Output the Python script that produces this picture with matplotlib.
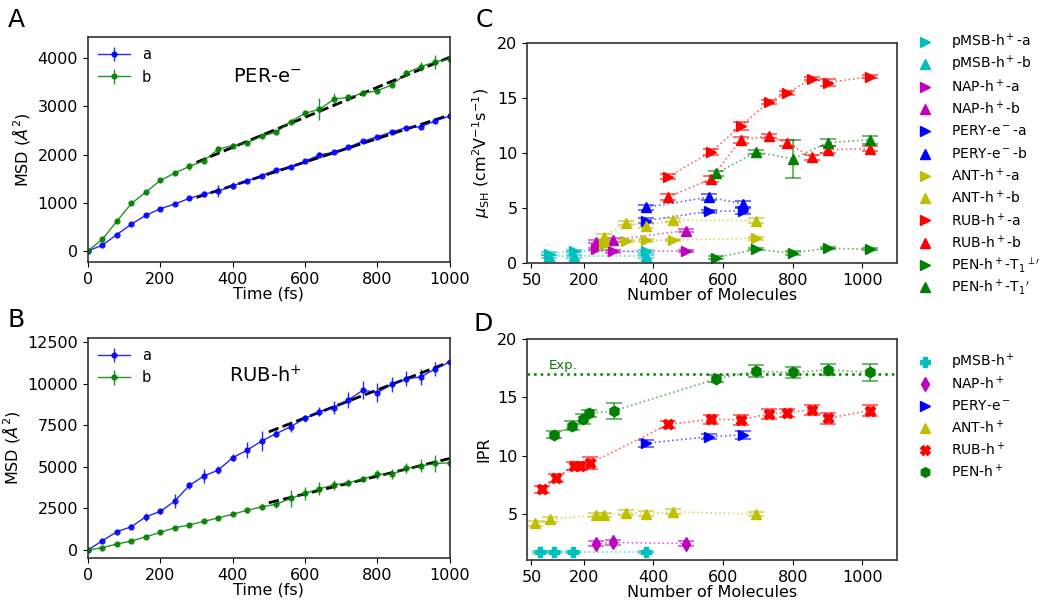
import numpy as np
import matplotlib
matplotlib.use("Agg")
import matplotlib.pyplot as plt
from matplotlib.lines import Line2D
from matplotlib.colors import to_rgba

# ---------------- Data ----------------
time_fs = [0, 40, 80, 120, 160, 200, 240, 280, 320, 360, 400, 440, 480, 520, 560,
           600, 640, 680, 720, 760, 800, 840, 880, 920, 960, 1000]

per_a = [0, 120, 340, 555, 740, 875, 975, 1090, 1180, 1240, 1355, 1450, 1565, 1680,
         1735, 1860, 1995, 2045, 2155, 2275, 2370, 2470, 2560, 2575, 2700, 2800]
per_a_err = [0, 20, 20, 25, 25, 25, 25, 30, 60, 120, 70, 50, 40, 40, 30, 30, 50, 30,
             30, 30, 30, 30, 30, 30, 40, 30]
per_b = [0, 243, 617, 985, 1220, 1463, 1615, 1754, 1871, 2110, 2187, 2245, 2384, 2461,
         2686, 2856, 2942, 3147, 3189, 3272, 3326, 3445, 3688, 3826, 3923, 3986]
per_b_err = [0, 30, 30, 30, 30, 30, 30, 80, 50, 60, 50, 40, 40, 40, 40, 60, 230, 130,
             70, 60, 50, 50, 60, 100, 140, 60]
per_fit_x = [300, 1000]
per_fit_a = [1110, 2821]
per_fit_b = [1838, 4020]

rub_a = [0, 560, 1100, 1400, 2000, 2320, 2940, 3880, 4440, 4800, 5550, 6000, 6550,
         6990, 7410, 7910, 8320, 8560, 9020, 9600, 9460, 9960, 10280, 10400, 10880, 11300]
rub_a_err = [0, 100, 100, 150, 250, 150, 400, 200, 400, 250, 200, 500, 600, 200, 300,
             200, 250, 400, 500, 550, 550, 450, 450, 500, 400, 200]
rub_b = [0, 140, 360, 540, 800, 1060, 1340, 1500, 1720, 1930, 2150, 2390, 2590, 2750,
         3100, 3400, 3680, 3910, 4040, 4260, 4540, 4560, 4900, 5060, 5200, 5240]
rub_b_err = [0, 60, 60, 80, 80, 80, 100, 100, 100, 100, 120, 150, 150, 200, 500, 400,
             400, 300, 200, 200, 250, 300, 300, 400, 500, 400]
rub_fit_x = [500, 1000]
rub_fit_a = [7100, 11300]
rub_fit_b = [2840, 5500]

# Panel C: mobility
c_pmsb_x = [100, 172, 380]
c_pmsb_a = [0.85, 1.1, 1.05]
c_pmsb_a_err = [0.15, 0.1, 0.1]
c_pmsb_b = [0.6, 0.6, 0.6]
c_pmsb_b_err = [0.1, 0.1, 0.1]

c_nap_x = [236, 283, 493]
c_nap_a = [1.25, 1.05, 1.1]
c_nap_a_err = [0.1, 0.1, 0.1]
c_nap_b = [1.95, 2.1, 2.95]
c_nap_b_err = [0.15, 0.15, 0.15]

c_pery_x = [378, 560, 657]
c_pery_a = [3.85, 4.7, 4.75]
c_pery_a_err = [0.2, 0.15, 0.25]
c_pery_b = [5.05, 6.0, 5.35]
c_pery_b_err = [0.2, 0.25, 0.3]

c_ant_x = [257, 322, 378, 455, 695]
c_ant_a = [1.6, 2.0, 2.05, 2.1, 2.25]
c_ant_a_err = [0.1, 0.1, 0.1, 0.1, 0.15]
c_ant_b = [2.4, 3.65, 3.4, 3.9, 3.85]
c_ant_b_err = [0.2, 0.2, 0.2, 0.2, 0.2]

c_rub_x = [443, 565, 651, 731, 784, 855, 900, 1022]
c_rub_a = [7.85, 10.1, 12.45, 14.65, 15.45, 16.75, 16.4, 16.95]
c_rub_a_err = [0.2, 0.25, 0.4, 0.2, 0.2, 0.15, 0.35, 0.15]
c_rub_b = [6.0, 7.65, 11.2, 11.55, 10.9, 9.6, 10.3, 10.4]
c_rub_b_err = [0.3, 0.25, 0.3, 0.2, 0.3, 0.25, 0.3, 0.2]

c_pen_x = [581, 695, 800, 900, 1022]
c_pen_a = [0.5, 1.25, 0.9, 1.35, 1.25]
c_pen_a_err = [0.1, 0.1, 0.2, 0.1, 0.1]
c_pen_b = [8.15, 10.1, 9.45, 10.95, 11.2]
c_pen_b_err = [0.25, 0.2, 1.7, 0.3, 0.35]

c_labels = ['pMSB-h$^+$-a', 'pMSB-h$^+$-b', 'NAP-h$^+$-a', 'NAP-h$^+$-b',
            'PERY-e$^-$-a', 'PERY-e$^-$-b', 'ANT-h$^+$-a', 'ANT-h$^+$-b',
            'RUB-h$^+$-a', 'RUB-h$^+$-b', 'PEN-h$^+$-T$_1{}^{\\perp\\prime}$',
            'PEN-h$^+$-T$_1{}^{\\prime}$']

# Panel D: IPR
d_pmsb_x = [74, 114, 169, 378]
d_pmsb = [1.8, 1.8, 1.8, 1.8]
d_pmsb_err = [0.1, 0.1, 0.1, 0.1]
d_nap_x = [236, 283, 493]
d_nap = [2.51, 2.6, 2.51]
d_nap_err = [0.2, 0.2, 0.2]
d_pery_x = [378, 560, 657]
d_pery = [11.08, 11.65, 11.8]
d_pery_err = [0.3, 0.2, 0.35]
d_ant_x = [59, 102, 236, 257, 322, 378, 455, 695]
d_ant = [4.23, 4.57, 4.94, 4.94, 5.14, 5.05, 5.22, 5.03]
d_ant_err = [0.2, 0.2, 0.2, 0.2, 0.2, 0.2, 0.2, 0.2]
d_rub_x = [81, 121, 172, 190, 218, 443, 565, 651, 731, 784, 855, 900, 1022]
d_rub = [7.14, 8.08, 9.14, 9.14, 9.37, 12.7, 13.14, 13.08, 13.6, 13.7, 13.94, 13.22, 13.88]
d_rub_err = [0.3, 0.35, 0.3, 0.3, 0.5, 0.3, 0.4, 0.45, 0.4, 0.35, 0.45, 0.45, 0.5]
d_pen_x = [116, 167, 198, 215, 286, 581, 695, 800, 900, 1022]
d_pen = [11.8, 12.6, 13.14, 13.65, 13.85, 16.6, 17.25, 17.14, 17.37, 17.14]
d_pen_err = [0.3, 0.35, 0.45, 0.3, 0.7, 0.3, 0.5, 0.45, 0.45, 0.7]
d_exp = 17.0
d_labels = ['pMSB-h$^+$', 'NAP-h$^+$', 'PERY-e$^-$', 'ANT-h$^+$', 'RUB-h$^+$', 'PEN-h$^+$']

# ---------------- Figure ----------------
plt.rcParams['font.family'] = ['DejaVu Sans']
plt.rcParams['axes.linewidth'] = 1.2
plt.rcParams['axes.edgecolor'] = '#333333'
TICK = 11.5
W, H = 1041, 603

fig = plt.figure(figsize=(10.41, 6.03), dpi=100)
axA = fig.add_axes([0.0845, 0.5655, 0.3475, 0.3731])
axB = fig.add_axes([0.0845, 0.0746, 0.3475, 0.3649])
axC = fig.add_axes([0.5065, 0.5638, 0.3555, 0.3649])
axD = fig.add_axes([0.5065, 0.0713, 0.3555, 0.3665])


def msd_panel(ax, ya, ea, yb, eb, fx, fa, fb, title, ylim, yticks, tx, ty):
    ax.errorbar(time_fs, ya, yerr=ea, color='b', marker='o', ms=3.5, lw=1.0,
                elinewidth=1.0, label='a', alpha=0.85)
    ax.errorbar(time_fs, yb, yerr=eb, color='g', marker='o', ms=3.5, lw=1.0,
                elinewidth=1.0, label='b', alpha=0.85)
    ax.plot(fx, fa, 'k--', lw=2)
    ax.plot(fx, fb, 'k--', lw=2)
    ax.set_xlim(0, 1000)
    ax.set_ylim(*ylim)
    ax.set_yticks(yticks)
    ax.set_xticks([0, 200, 400, 600, 800, 1000])
    ax.tick_params(labelsize=TICK)
    ax.set_xlabel('Time (fs)', fontsize=TICK, labelpad=0)
    ax.set_ylabel(r'MSD ($\AA^2$)', fontsize=TICK)
    ax.text(tx, ty, title, fontsize=14, transform=ax.transAxes)
    ax.legend(loc='upper left', frameon=False, fontsize=10.5, handlelength=2.2,
              borderaxespad=0.3)


msd_panel(axA, per_a, per_a_err, per_b, per_b_err, per_fit_x, per_fit_a, per_fit_b,
          'PER-e$^{-}$', (-230, 4440), [0, 1000, 2000, 3000, 4000], 0.40, 0.80)
msd_panel(axB, rub_a, rub_a_err, rub_b, rub_b_err, rub_fit_x, rub_fit_a, rub_fit_b,
          'RUB-h$^{+}$', (-480, 12740), [0, 2500, 5000, 7500, 10000, 12500], 0.39, 0.80)


def series(ax, x, y, e, color, marker, ms=7.5):
    ax.plot(x, y, ls=':', color=color, lw=1.2, alpha=0.6)
    ax.errorbar(x, y, yerr=e, ls='none', marker=marker, ms=ms, color=color,
                ecolor=to_rgba(color, 0.55), elinewidth=1.5, capsize=6, capthick=1.5,
                mec=color)


def side_legend(entries, labels, y0, dy):
    # evenly spaced legend rows outside the axes (figure pixel positions)
    for i, ((col, mk), lab) in enumerate(zip(entries, labels)):
        yy = 1 - (y0 + dy * i) / H
        fig.add_artist(Line2D([925 / W], [yy], transform=fig.transFigure,
                              ls='none', marker=mk, color=col, ms=7))
        fig.text(951 / W, yy, lab, fontsize=10, va='center', ha='left')


# Panel C
c_series = [
    (c_pmsb_x, c_pmsb_a, c_pmsb_a_err, 'c', '>'),
    (c_pmsb_x, c_pmsb_b, c_pmsb_b_err, 'c', '^'),
    (c_nap_x, c_nap_a, c_nap_a_err, 'm', '>'),
    (c_nap_x, c_nap_b, c_nap_b_err, 'm', '^'),
    (c_pery_x, c_pery_a, c_pery_a_err, 'b', '>'),
    (c_pery_x, c_pery_b, c_pery_b_err, 'b', '^'),
    (c_ant_x, c_ant_a, c_ant_a_err, 'y', '>'),
    (c_ant_x, c_ant_b, c_ant_b_err, 'y', '^'),
    (c_rub_x, c_rub_a, c_rub_a_err, 'r', '>'),
    (c_rub_x, c_rub_b, c_rub_b_err, 'r', '^'),
    (c_pen_x, c_pen_a, c_pen_a_err, 'g', '>'),
    (c_pen_x, c_pen_b, c_pen_b_err, 'g', '^'),
]
for x, y, e, col, mk in c_series:
    series(axC, x, y, e, col, mk)
side_legend([(col, mk) for _, _, _, col, mk in c_series], c_labels, 42, 22.3)
axC.set_xlim(38, 1100)
axC.set_ylim(0, 20)
axC.set_xticks([50, 200, 400, 600, 800, 1000])
axC.set_yticks([0, 5, 10, 15, 20])
axC.tick_params(labelsize=TICK)
axC.set_xlabel('Number of Molecules', fontsize=TICK, labelpad=0)
axC.set_ylabel(r'$\mu_{\rm SH}$ (cm$^2$V$^{-1}$s$^{-1}$)', fontsize=TICK)

# Panel D
d_series = [
    (d_pmsb_x, d_pmsb, d_pmsb_err, 'c', 'P'),
    (d_nap_x, d_nap, d_nap_err, 'm', 'd'),
    (d_pery_x, d_pery, d_pery_err, 'b', '>'),
    (d_ant_x, d_ant, d_ant_err, 'y', '^'),
    (d_rub_x, d_rub, d_rub_err, 'r', 'X'),
    (d_pen_x, d_pen, d_pen_err, 'g', 'h'),
]
for x, y, e, col, mk in d_series:
    series(axD, x, y, e, col, mk)
axD.axhline(d_exp, color='g', ls=':', lw=1.8)
axD.text(100, d_exp + 0.45, 'Exp.', color='g', fontsize=9.5)
side_legend([(col, mk) for _, _, _, col, mk in d_series], d_labels, 362, 21.9)
axD.set_xlim(38, 1100)
axD.set_ylim(1.1, 20)
axD.set_xticks([50, 200, 400, 600, 800, 1000])
axD.set_yticks([5, 10, 15, 20])
axD.tick_params(labelsize=TICK)
axD.set_xlabel('Number of Molecules', fontsize=TICK, labelpad=0)
axD.set_ylabel('IPR', fontsize=TICK)

# Panel letters
for lbl, xx, yy in [('A', 8, 8), ('B', 8, 308), ('C', 476, 8), ('D', 474, 312)]:
    fig.text(xx / W, 1 - yy / H, lbl, fontsize=18, va='top', ha='left')

fig.savefig('out.png', dpi=100)
